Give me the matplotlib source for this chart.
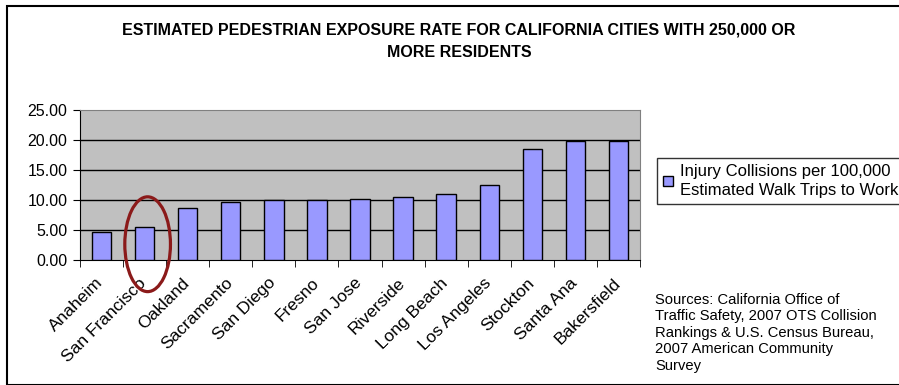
import matplotlib
matplotlib.use('Agg')
import matplotlib.pyplot as plt
from matplotlib.patches import Ellipse, Rectangle
from matplotlib.transforms import ScaledTranslation

cities = ['Anaheim', 'San Francisco', 'Oakland', 'Sacramento', 'San Diego',
          'Fresno', 'San Jose', 'Riverside', 'Long Beach', 'Los Angeles',
          'Stockton', 'Santa Ana', 'Bakersfield']
rates = [4.72, 5.55, 8.67, 9.60, 9.98, 9.98, 10.22, 10.44, 10.94, 12.50,
         18.50, 19.83, 19.83]
yticks = [0, 5, 10, 15, 20, 25]

plt.rcParams['font.family'] = ['Liberation Sans', 'DejaVu Sans']

fig = plt.figure(figsize=(8.99, 3.85), dpi=100)
W, H = 899, 385

# outer chart frame
fig.patches.append(Rectangle((7 / W, 0), 1, 1 - 6 / H, transform=fig.transFigure,
                             fill=False, edgecolor='black', linewidth=1.5))

ax = fig.add_axes([80 / W, 1 - 260 / H, 560 / W, 150 / H])
ax.set_facecolor('#c0c0c0')

x = list(range(len(cities)))
ax.bar(x, rates, width=0.45, color='#9999ff', edgecolor='black', linewidth=1,
       zorder=3, label='Injury Collisions per 100,000\nEstimated Walk Trips to Work')

ax.set_xlim(-0.5, len(cities) - 0.5)
ax.set_ylim(0, 25)
ax.set_yticks(yticks)
ax.set_yticklabels([f'{v:.2f}' for v in yticks], fontsize=11.5)
for v in yticks[1:-1]:
    ax.axhline(v, color='black', linewidth=1, zorder=1)

ax.set_xticks(x)
ax.set_xticklabels(cities, rotation=45, ha='right', va='top',
                   rotation_mode='anchor', fontsize=12.5)
ax.tick_params(axis='x', which='major', length=0, pad=11)
shift = ScaledTranslation(-6 / 100, 0, fig.dpi_scale_trans)
for lbl in ax.get_xticklabels():
    lbl.set_transform(lbl.get_transform() + shift)
ax.set_xticks([i - 0.5 for i in range(len(cities) + 1)], minor=True)
ax.tick_params(axis='x', which='minor', length=5, direction='out', color='black')
ax.tick_params(axis='y', length=5, direction='out', pad=4)

for side in ['top', 'right']:
    ax.spines[side].set_color('#808080')
for side in ['left', 'bottom']:
    ax.spines[side].set_color('black')

# highlight San Francisco
ax.add_patch(Ellipse((1.07, 2.63), 1.06, 15.8, fill=False, edgecolor='#8b1a1a',
                     linewidth=2.3, clip_on=False, zorder=5))

fig.text(459 / W, 1 - 41 / H,
         'ESTIMATED PEDESTRIAN EXPOSURE RATE FOR CALIFORNIA CITIES WITH 250,000 OR\nMORE RESIDENTS',
         ha='center', va='center', fontsize=11.5, fontweight='bold', linespacing=1.6)

leg = fig.legend(loc='upper left', bbox_to_anchor=(657 / W, 1 - 158 / H),
                 fontsize=12, frameon=True, fancybox=False, handlelength=0.6,
                 handleheight=0.6, handletextpad=0.4, borderpad=0.35,
                 borderaxespad=0)
leg.get_texts()[0].set_linespacing(1.35)
leg.get_frame().set_edgecolor('black')
leg.get_frame().set_linewidth(1)

fig.text(655 / W, 1 - 293 / H,
         'Sources: California Office of\nTraffic Safety, 2007 OTS Collision\n'
         'Rankings & U.S. Census Bureau,\n2007 American Community\nSurvey',
         ha='left', va='top', fontsize=10.6, linespacing=1.22)

fig.savefig('out.png', dpi=100)
